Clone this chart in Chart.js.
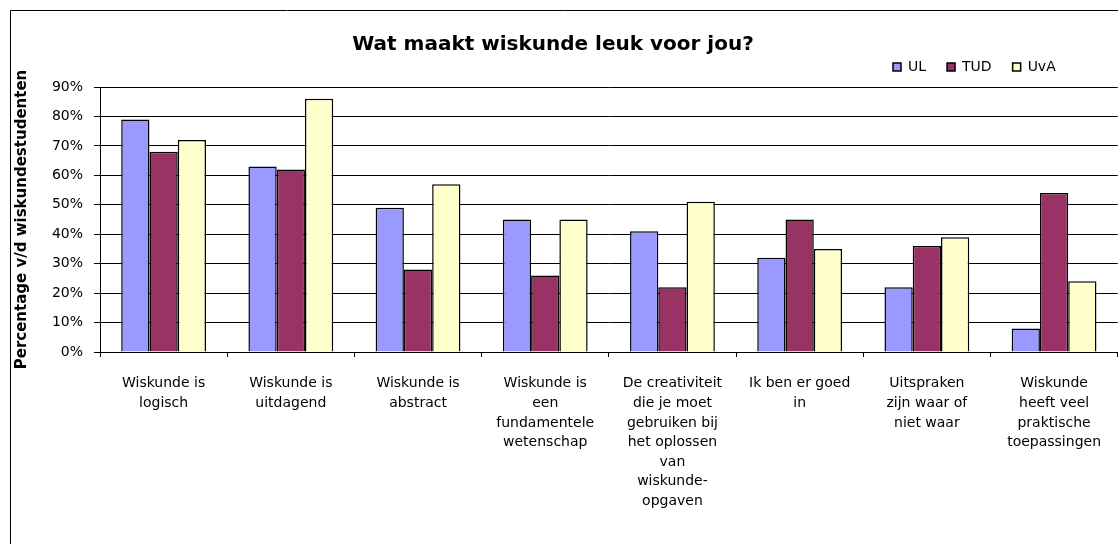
<!DOCTYPE html>
<html>
<head>
<meta charset="utf-8">
<script src="https://cdn.jsdelivr.net/npm/chart.js@4/dist/chart.umd.min.js"></script>
<style>
  html, body { margin: 0; padding: 0; background: #fff; overflow: hidden; }
  #wrap { position: relative; width: 1118px; height: 544px; }
</style>
</head>
<body>
<div id="wrap"><canvas id="chart"></canvas></div>
<script>
// Survey answers per statement, percentage of maths students
const categories = [
    ['Wiskunde is', 'logisch'],
    ['Wiskunde is', 'uitdagend'],
    ['Wiskunde is', 'abstract'],
    ['Wiskunde is', 'een', 'fundamentele', 'wetenschap'],
    ['De creativiteit', 'die je moet', 'gebruiken bij', 'het oplossen', 'van', 'wiskunde-', 'opgaven'],
    ['Ik ben er goed', 'in'],
    ['Uitspraken', 'zijn waar of', 'niet waar'],
    ['Wiskunde', 'heeft veel', 'praktische', 'toepassingen']
];
const seriesNames = ['UL', 'TUD', 'UvA'];
const ulValues  = [79, 63, 49, 45, 41, 32, 22, 8];
const tudValues = [68, 62, 28, 26, 22, 45, 36, 54];
const uvaValues = [72, 86, 57, 45, 51, 35, 39, 24];
const yMax = 90;
const yStep = 10;

const FONT = "'DejaVu Sans', Arial, sans-serif";
const TITLE_SIZE = 20;
const TITLE_LH = 1.25;

// white background plus the outer chart frame (only top/left edges are on screen)
const framePlugin = {
    id: 'frame',
    beforeDraw(chart) {
        const ctx = chart.ctx;
        ctx.save();
        ctx.fillStyle = '#fff';
        ctx.fillRect(0, 0, chart.width, chart.height);
        ctx.strokeStyle = '#000';
        ctx.lineWidth = 1;
        ctx.beginPath();
        ctx.moveTo(10.5, chart.height);
        ctx.lineTo(10.5, 10.5);
        ctx.lineTo(chart.width, 10.5);
        ctx.stroke();
        ctx.restore();
    },
    // title sits slightly left of centre, legend floats at the right of the title row
    afterLayout(chart) {
        const t = chart.titleBlock;
        t.left -= 11;
        t.right -= 11;
        t.top = 45 - TITLE_SIZE * TITLE_LH / 2;
        const lg = chart.legend;
        const pad = lg.options.labels.padding;
        lg.left = 893 - pad;
        lg.top = 67 - pad - 7;
    }
};

const ctx = document.getElementById('chart').getContext('2d');
new Chart(ctx, {
    type: 'bar',
    data: {
        labels: categories,
        datasets: [
            { label: seriesNames[0], data: ulValues,  backgroundColor: '#9999FF' },
            { label: seriesNames[1], data: tudValues, backgroundColor: '#993366' },
            { label: seriesNames[2], data: uvaValues, backgroundColor: '#FFFFCC' }
        ].map(d => Object.assign(d, {
            borderColor: '#000',
            borderWidth: 1.5,
            borderSkipped: 'bottom',
            categoryPercentage: 3 / 4.5,
            barPercentage: 1
        }))
    },
    options: {
        responsive: true,
        maintainAspectRatio: false,
        animation: false,
        layout: { padding: { left: 10, top: 10, right: 0, bottom: 0 } },
        plugins: {
            title: {
                display: true,
                text: 'Wat maakt wiskunde leuk voor jou?',
                color: '#000',
                font: { family: FONT, size: TITLE_SIZE, weight: 'bold', lineHeight: TITLE_LH },
                padding: { top: 0, bottom: 7 }
            },
            legend: {
                display: true,
                position: 'top',
                align: 'start',
                labels: {
                    color: '#000',
                    font: { family: FONT, size: 14 },
                    boxWidth: 8,
                    boxHeight: 8,
                    padding: 21
                }
            },
            tooltip: { enabled: false }
        },
        scales: {
            x: {
                grid: {
                    display: true,
                    drawOnChartArea: false,
                    drawTicks: true,
                    tickLength: 5,
                    color: '#000',
                    offset: true
                },
                border: { display: true, color: '#000', width: 1 },
                ticks: {
                    color: '#000',
                    font: { family: FONT, size: 14, lineHeight: 1.4 },
                    autoSkip: false,
                    maxRotation: 0,
                    minRotation: 0,
                    padding: 17
                },
                afterFit(scale) { scale.height = 192; }
            },
            y: {
                min: 0,
                max: yMax,
                grid: { color: '#000', lineWidth: 1, tickLength: 6, drawTicks: true },
                border: { display: true, color: '#000', width: 1 },
                ticks: {
                    stepSize: yStep,
                    color: '#000',
                    font: { family: FONT, size: 14 },
                    padding: 11,
                    callback: v => v + '%'
                },
                title: {
                    display: true,
                    text: 'Percentage v/d wiskundestudenten',
                    color: '#000',
                    font: { family: FONT, size: 15, weight: 'bold' },
                    padding: { top: 3, bottom: 0 }
                },
                afterFit(scale) { scale.width = 90; }
            }
        }
    },
    plugins: [framePlugin]
});
</script>
</body>
</html>
